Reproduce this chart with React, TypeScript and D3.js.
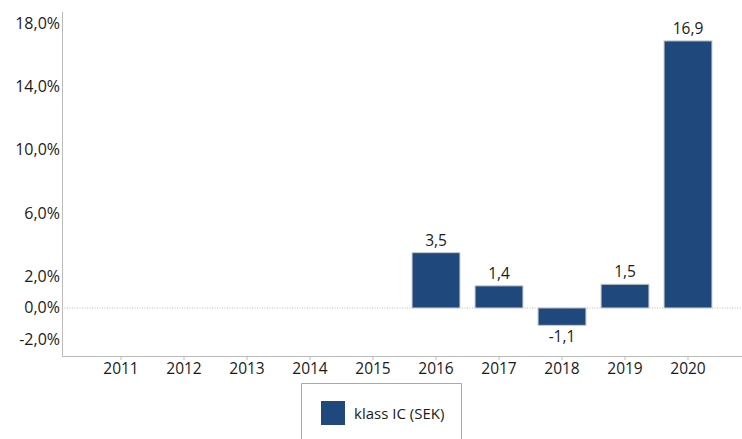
import React from "react";
import * as d3 from "d3";

const years = ["2011", "2012", "2013", "2014", "2015", "2016", "2017", "2018", "2019", "2020"];
const values: (number | null)[] = [null, null, null, null, null, 3.5, 1.4, -1.1, 1.5, 16.9];
const yTicks = [18, 14, 10, 6, 2, 0, -2];
const seriesName = "klass IC (SEK)";

const W = 742;
const H = 439;
const FONT = "'Open Sans', 'Noto Sans', sans-serif";

export default function App() {
  const y = d3.scaleLinear().domain([-3.04, 18.73]).range([356, 12]);
  const x = d3.scaleBand<string>().domain(years).range([89.5, 719.5]).paddingInner(0.24).paddingOuter(0.12);
  const fmtTick = (v: number) => v.toFixed(1).replace(".", ",") + "%";
  const fmtVal = (v: number) => v.toFixed(1).replace(".", ",");
  const y0 = y(0);
  return (
    <svg width={W} height={H} style={{ position: "absolute", left: 0, top: 0, fontFamily: FONT }}>
      <rect width={W} height={H} fill="#fff" />
      {/* zero line */}
      <line x1={62} x2={W} y1={y0} y2={y0} stroke="#bbb" strokeDasharray="1,1.5" />
      {/* bars */}
      {years.map((yr, i) => {
        const v = values[i];
        if (v == null) return null;
        const top = y(Math.max(0, v));
        const bot = y(Math.min(0, v));
        const bx = x(yr)!;
        const bw = x.bandwidth();
        return (
          <g key={yr}>
            <rect x={bx} y={top} width={bw} height={bot - top} fill="#1f497d" stroke="#c8c8c8" strokeWidth={1} />
            <text
              x={bx + bw / 2}
              y={v >= 0 ? top - 7 : bot + 17}
              textAnchor="middle"
              fontSize={15.5}
              fill="#1a1a1a"
            >
              {fmtVal(v)}
            </text>
          </g>
        );
      })}
      {/* y axis */}
      <line x1={62.5} x2={62.5} y1={12} y2={356} stroke="#bbb" />
      {yTicks.map((t) => (
        <text key={t} x={60} y={y(t) + 5.5} textAnchor="end" fontSize={16} fill="#1a1a1a">
          {fmtTick(t)}
        </text>
      ))}
      {/* x axis */}
      <line x1={62} x2={W} y1={356.5} y2={356.5} stroke="#bbb" />
      {years.map((yr) => {
        const cx = x(yr)! + x.bandwidth() / 2;
        return (
          <g key={yr}>
            <line x1={cx} x2={cx} y1={356} y2={360} stroke="#bbb" />
            <text x={cx} y={374} textAnchor="middle" fontSize={15.5} fill="#1a1a1a">
              {yr}
            </text>
          </g>
        );
      })}
      {/* legend */}
      <path d="M301.5,439 V383.5 H461.5 V439" fill="none" stroke="#aaa" />
      <rect x={321} y={401} width={24} height={24} fill="#1f497d" />
      <text x={354} y={419} fontSize={15} fill="#1a1a1a">
        {seriesName}
      </text>
    </svg>
  );
}
